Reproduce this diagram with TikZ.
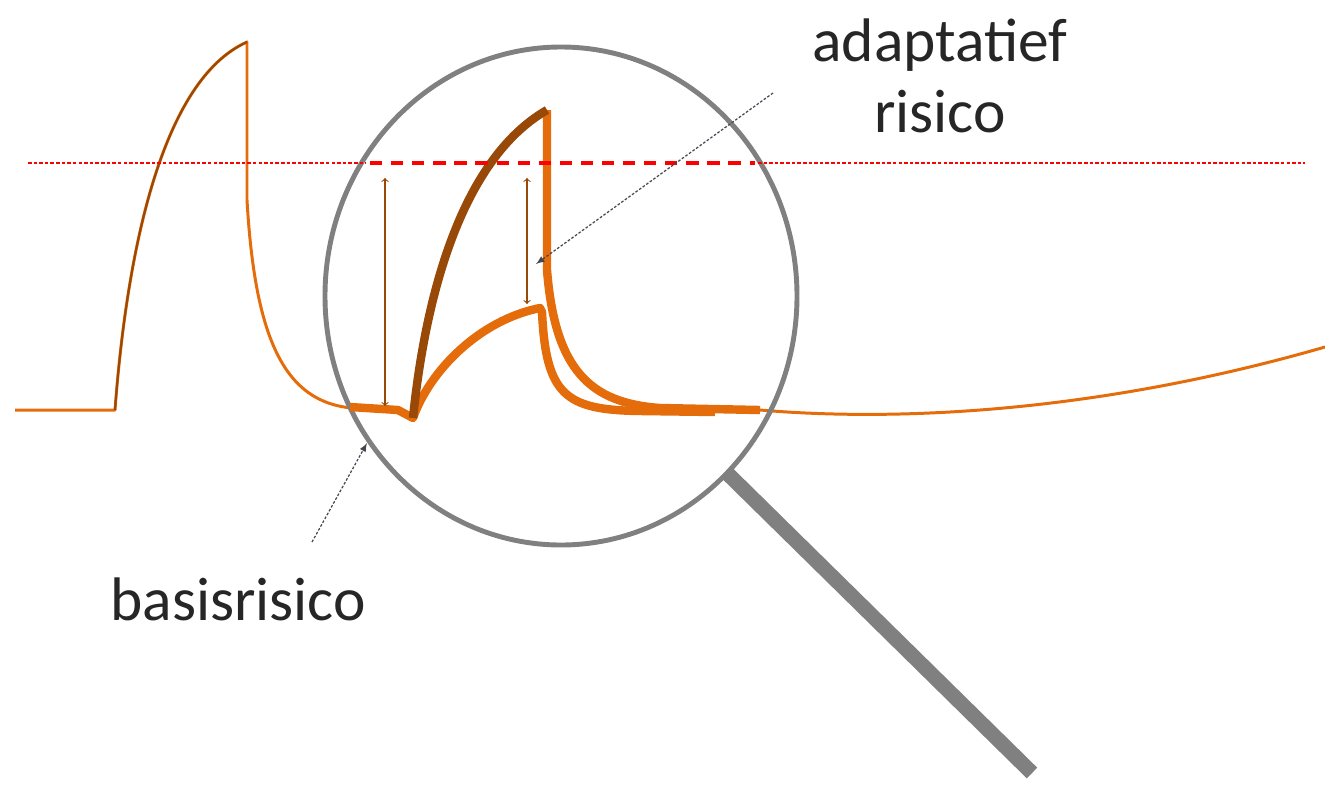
\documentclass[tikz,border=0pt]{standalone}
\usepackage{fontspec}
\setmainfont{Carlito}
\usepackage{tikz}
\definecolor{riskorange}{RGB}{228,108,10}
\definecolor{riskbrown}{RGB}{152,72,7}
\definecolor{lensgray}{RGB}{128,128,128}
\definecolor{notegray}{RGB}{70,70,80}

\begin{document}
\begin{tikzpicture}[x=0.02cm, y=-0.02cm, line join=round,
	lbl/.style={font=\fontsize{35}{40}\selectfont, text=black!85, inner sep=0pt},
	thin curve/.style={riskorange, line width=1.7pt},
	thick curve/.style={riskorange, line width=4.8pt},
	limit/.style={red, line width=0.8pt, dash pattern=on 2pt off 1.2pt},
	gap/.style={riskbrown, line width=0.6pt, <->},
	note/.style={notegray, line width=0.7pt, dash pattern=on 1.5pt off 1pt, -latex}]
	\useasboundingbox (0,0) rectangle (1325,785);
	% the risk curve seen from afar
	\draw[thin curve] (15,410) -- (115,410) .. controls (127,250) and (162,80) .. (247,42) -- (247,200) .. controls (255,340) and (285,402) .. (352,408);
	\draw[riskbrown, line width=1.2pt] (115,410) .. controls (127,250) and (162,80) .. (247,42);
	\draw[thin curve] (760,410) .. controls (900,422) and (1100,412) .. (1325,347);
	% magnifying glass
	\draw[lensgray, line width=2.8pt] (561,296) ellipse (236 and 249);
	\draw[lensgray, line width=8.5pt] (728,474) -- (1032,773);
	% the curves under the glass
	\draw[thick curve] (350,407) -- (398,410) -- (413,418) .. controls (430,370) and (480,320) .. (540,308) -- (542,312) .. controls (546,395) and (565,410) .. (640,411) -- (715,412);
	\draw[thick curve] (547,110) -- (547,270) .. controls (555,370) and (590,403) .. (660,408) -- (760,410);
	\draw[riskbrown, line width=4.8pt] (413,418) .. controls (425,300) and (460,160) .. (547,110);
	% limit line
	\draw[limit] (28,163) -- (366,163);
	\draw[limit] (758,163) -- (1305,163);
	\draw[red, line width=2.3pt, dash pattern=on 7pt off 5pt] (370,163) -- (755,163);
	\draw[gap] (385,178) -- (385,406);
	\draw[gap] (527,178) -- (527,304);
	% labels
	\node[lbl, align=center, anchor=base] (adapt) at (940,132) {adaptatief\\risico};
	\node[lbl, anchor=base west] (basis) at (110,620) {basisrisico};
	\coordinate (adaptfrom) at (773,93);
	\coordinate (adaptto) at (536,264);
	\coordinate (basisfrom) at (312,542);
	\coordinate (basisto) at (367,443);
	\draw[note] (adaptfrom) -- (adaptto);
	\draw[note] (basisfrom) -- (basisto);
\end{tikzpicture}
\end{document}
